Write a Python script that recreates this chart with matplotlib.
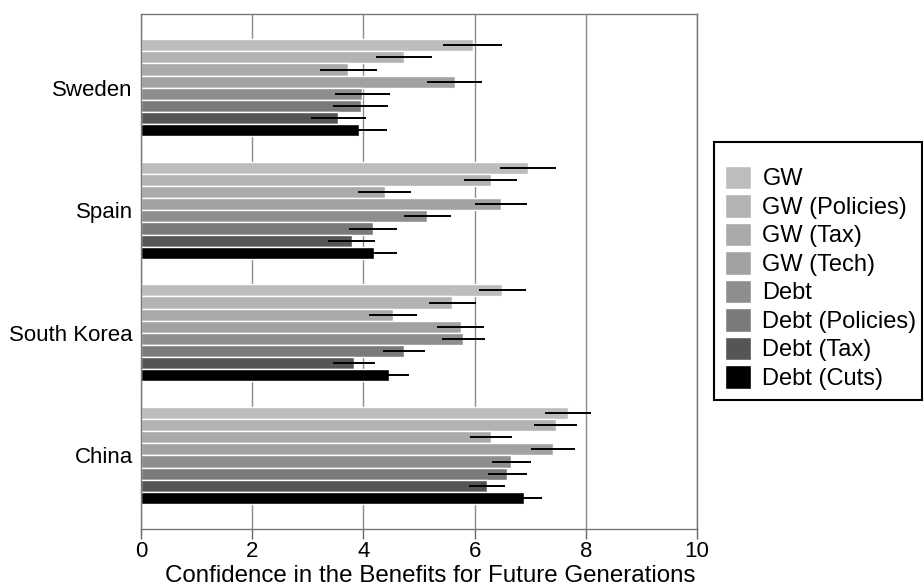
import numpy as np
import matplotlib
matplotlib.use("Agg")
import matplotlib.pyplot as plt
from matplotlib.patches import Rectangle

plt.rcParams['font.family'] = ['Liberation Sans', 'DejaVu Sans']

countries = ['Sweden', 'Spain', 'South Korea', 'China']
series = ['GW', 'GW (Policies)', 'GW (Tax)', 'GW (Tech)',
          'Debt', 'Debt (Policies)', 'Debt (Tax)', 'Debt (Cuts)']

# mean per series, one entry per country (Sweden, Spain, South Korea, China)
means = {
    'GW':              [5.97, 6.96, 6.50, 7.68],
    'GW (Policies)':   [4.73, 6.29, 5.60, 7.46],
    'GW (Tax)':        [3.73, 4.38, 4.53, 6.30],
    'GW (Tech)':       [5.64, 6.48, 5.75, 7.41],
    'Debt':            [3.98, 5.15, 5.80, 6.66],
    'Debt (Policies)': [3.95, 4.17, 4.73, 6.59],
    'Debt (Tax)':      [3.55, 3.79, 3.83, 6.22],
    'Debt (Cuts)':     [3.92, 4.19, 4.46, 6.88],
}
errors = {
    'GW':              [0.53, 0.50, 0.42, 0.41],
    'GW (Policies)':   [0.51, 0.48, 0.42, 0.39],
    'GW (Tax)':        [0.51, 0.47, 0.43, 0.38],
    'GW (Tech)':       [0.50, 0.47, 0.42, 0.39],
    'Debt':            [0.49, 0.42, 0.38, 0.35],
    'Debt (Policies)': [0.50, 0.43, 0.37, 0.35],
    'Debt (Tax)':      [0.50, 0.42, 0.37, 0.32],
    'Debt (Cuts)':     [0.51, 0.42, 0.36, 0.34],
}
colors = ['#bdbdbd', '#b3b3b3', '#aaaaaa', '#a2a2a2',
          '#8e8e8e', '#7a7a7a', '#555555', '#000000']

W, H = 924, 585
fig = plt.figure(figsize=(W / 100, H / 100), dpi=100)
ax = fig.add_axes([0.1526, 0.0957, 0.6017, 0.880])

bh = 0.099
y0 = np.arange(len(countries))
for i, s in enumerate(series):
    y = y0 - 4 * bh + (i + 0.5) * bh
    ax.barh(y, means[s], height=bh, color=colors[i], edgecolor='white',
            linewidth=1.0, label=s, zorder=2)
    ax.errorbar(means[s], y, xerr=errors[s], fmt='none', ecolor='black',
                elinewidth=1.4, capsize=0, zorder=3)

ax.set_xlim(0, 10)
ax.set_ylim(3.6, -0.6)
ax.set_xticks([0, 2, 4, 6, 8, 10])
ax.set_yticks(y0)
ax.set_yticklabels(countries)
ax.tick_params(axis='y', length=0, labelsize=16, pad=6)
ax.tick_params(axis='x', length=7.5, labelsize=16, width=1, color='#666666', pad=1)
ax.grid(axis='x', color='#8c8c8c', linewidth=1, zorder=0)
ax.set_axisbelow(True)
for sp in ax.spines.values():
    sp.set_color('#777777')
    sp.set_linewidth(1)
ax.set_xlabel('Confidence in the Benefits for Future Generations', fontsize=17.4, labelpad=2)
ax.xaxis.label.set_x(0.52)

leg = fig.legend(loc='upper left', bbox_to_anchor=(714 / W, 1 - 155 / H),
                 fontsize=17, frameon=False, handlelength=1.1,
                 handleheight=1.15, labelspacing=0.16, handletextpad=0.5,
                 borderpad=0.45, borderaxespad=0)
fig.patches.append(Rectangle((714 / W, 1 - 400 / H), 208 / W, 258 / H,
                             transform=fig.transFigure, fill=False,
                             edgecolor='black', linewidth=1.5))

fig.savefig('out.png', dpi=100)
